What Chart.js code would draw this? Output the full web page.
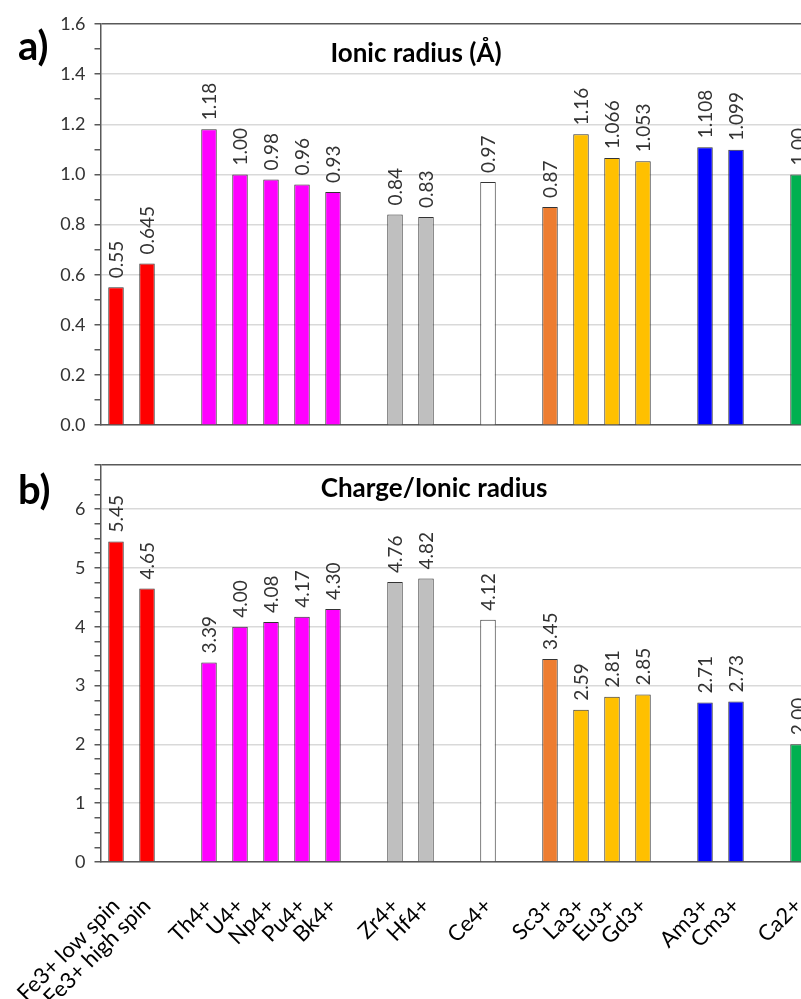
<!DOCTYPE html>
<html>
<head>
<meta charset="utf-8">
<script src="https://cdn.jsdelivr.net/npm/chart.js@4"></script>
<style>
  html, body { margin: 0; padding: 0; background: #fff; overflow: hidden; }
  #wrap { position: relative; width: 801px; height: 999px; overflow: hidden; }
  canvas { position: absolute; left: 0; }
  #radiusChart { top: 0; }
  #ratioChart { top: 445px; }
</style>
</head>
<body>
<div id="wrap">
  <canvas id="radiusChart" width="840" height="445"></canvas>
  <canvas id="ratioChart" width="840" height="554"></canvas>
</div>
<script>
// categories ('' = empty slot between groups)
const categories = ['Fe3+ low spin', 'Fe3+ high spin', '', 'Th4+', 'U4+', 'Np4+', 'Pu4+', 'Bk4+', '',
  'Zr4+', 'Hf4+', '', 'Ce4+', '', 'Sc3+', 'La3+', 'Eu3+', 'Gd3+', '', 'Am3+', 'Cm3+', '', 'Ca2+'];

// a) ionic radius (Å) and decimals shown on the labels
const ionicRadius = [0.55, 0.645, null, 1.18, 1.00, 0.98, 0.96, 0.93, null,
  0.84, 0.83, null, 0.97, null, 0.87, 1.16, 1.066, 1.053, null, 1.108, 1.099, null, 1.00];
const radiusDecimals = [2, 3, 0, 2, 2, 2, 2, 2, 0, 2, 2, 0, 2, 0, 2, 2, 3, 3, 0, 3, 3, 0, 2];

// b) charge / ionic radius
const chargeRatio = [5.45, 4.65, null, 3.39, 4.00, 4.08, 4.17, 4.30, null,
  4.76, 4.82, null, 4.12, null, 3.45, 2.59, 2.81, 2.85, null, 2.71, 2.73, null, 2.00];

const barColors = ['#ff0000', '#ff0000', null, '#ff00ff', '#ff00ff', '#ff00ff', '#ff00ff', '#ff00ff', null,
  '#bfbfbf', '#bfbfbf', null, '#ffffff', null, '#ed7d31', '#ffc000', '#ffc000', '#ffc000', null,
  '#0000ff', '#0000ff', null, '#00b050'];

// y tick labels (major) and minor tick steps
const radiusTicks = ['0.0', '0.2', '0.4', '0.6', '0.8', '1.0', '1.2', '1.4', '1.6'];
const radiusMinorStep = 0.1;
const radiusMax = 1.6;
const ratioTicks = ['0', '1', '2', '3', '4', '5', '6'];
const ratioMinorStep = 0.25;
const ratioMax = 6.75;

const FONT = 'Lato, "Open Sans", sans-serif';

// plugin: vertical value labels above each bar
function barLabels(format) {
  return {
    id: 'barLabels',
    afterDatasetsDraw(chart) {
      const ctx = chart.ctx;
      const meta = chart.getDatasetMeta(0);
      const data = chart.data.datasets[0].data;
      ctx.save();
      ctx.font = '19px ' + FONT;
      ctx.fillStyle = '#333';
      ctx.textAlign = 'left';
      ctx.textBaseline = 'middle';
      meta.data.forEach((bar, i) => {
        if (data[i] == null) return;
        ctx.save();
        ctx.translate(bar.x + 1, bar.y - 9);
        ctx.rotate(-Math.PI / 2);
        ctx.fillText(format(data[i], i), 0, 0);
        ctx.restore();
      });
      ctx.restore();
    }
  };
}

// plugin: panel letter and title inside the plot
function panelText(letter, letterY, title, titleX, titleY) {
  return {
    id: 'panelText',
    afterDraw(chart) {
      const ctx = chart.ctx;
      ctx.save();
      ctx.fillStyle = '#000';
      ctx.textBaseline = 'alphabetic';
      ctx.font = 'bold 40px ' + FONT;
      ctx.textAlign = 'left';
      ctx.fillText(letter, 18, letterY);
      ctx.font = 'bold 26px ' + FONT;
      ctx.textAlign = 'center';
      ctx.fillText(title, titleX, titleY);
      ctx.restore();
    }
  };
}

function yScale(labels, step, max) {
  const majors = labels.map(parseFloat);
  const isMajor = v => majors.some(m => Math.abs(m - v) < 1e-6);
  return {
    min: 0,
    max: max,
    afterBuildTicks(scale) {
      const ticks = [];
      const n = Math.round(max / step);
      for (let k = 0; k <= n; k++) ticks.push({ value: +(k * step).toFixed(4) });
      scale.ticks = ticks;
    },
    afterFit(scale) { scale.width = 100.5; },
    ticks: {
      autoSkip: false,
      padding: 9,
      color: '#333',
      font: { family: FONT, size: 18 },
      callback: v => {
        const idx = majors.findIndex(m => Math.abs(m - v) < 1e-6);
        return idx >= 0 ? labels[idx] : '';
      }
    },
    grid: {
      lineWidth: 1.5,
      tickLength: 6,
      tickColor: '#595959',
      color: c => {
        const v = c.tick ? c.tick.value : 0;
        if (Math.abs(v - max) < 1e-6) return '#595959';
        return isMajor(v) ? '#d9d9d9' : 'rgba(0,0,0,0)';
      }
    },
    border: { color: '#595959', width: 1.5 }
  };
}

const barDataset = values => ({
  data: values,
  backgroundColor: barColors,
  borderColor: '#333',
  borderWidth: 1,
  barPercentage: 0.5,
  categoryPercentage: 1
});

new Chart(document.getElementById('radiusChart'), {
  type: 'bar',
  data: { labels: categories, datasets: [barDataset(ionicRadius)] },
  options: {
    responsive: false,
    animation: false,
    devicePixelRatio: 1,
    layout: { padding: { left: 0, top: 24, right: 26.5, bottom: 15 } },
    plugins: { legend: { display: false }, tooltip: { enabled: false } },
    scales: {
      x: {
        ticks: { display: false },
        grid: { display: false },
        border: { color: '#595959', width: 1.5 },
        afterFit(scale) { scale.height = 0; }
      },
      y: yScale(radiusTicks, radiusMinorStep, radiusMax)
    }
  },
  plugins: [
    barLabels((v, i) => v.toFixed(radiusDecimals[i])),
    panelText('a)', 60, 'Ionic radius (Å)', 416, 62)
  ]
});

new Chart(document.getElementById('ratioChart'), {
  type: 'bar',
  data: { labels: categories, datasets: [barDataset(chargeRatio)] },
  options: {
    responsive: false,
    animation: false,
    devicePixelRatio: 1,
    layout: { padding: { left: 0, top: 20, right: 26.5, bottom: 0 } },
    plugins: { legend: { display: false }, tooltip: { enabled: false } },
    scales: {
      x: {
        ticks: {
          autoSkip: false,
          minRotation: 45,
          maxRotation: 45,
          padding: 23,
          color: '#000',
          font: { family: FONT, size: 22 }
        },
        grid: { display: false },
        border: { color: '#595959', width: 1.5 },
        afterFit(scale) {
          scale.height = 137;
          scale.paddingLeft = 0;
          scale.paddingRight = 0;
        }
      },
      y: yScale(ratioTicks, ratioMinorStep, ratioMax)
    }
  },
  plugins: [
    barLabels(v => v.toFixed(2)),
    panelText('b)', 59, 'Charge/Ionic radius', 434, 52)
  ]
});
</script>
</body>
</html>
